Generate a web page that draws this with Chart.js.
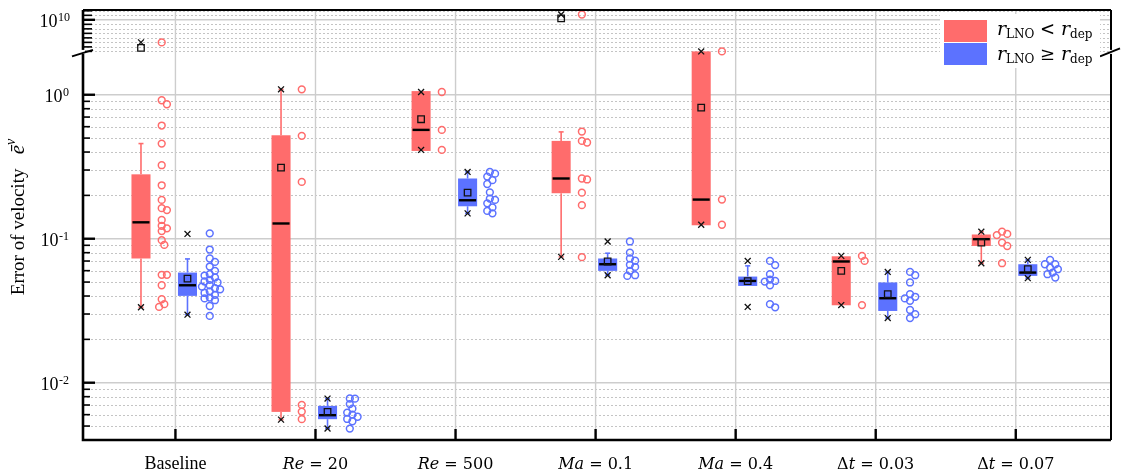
<!DOCTYPE html>
<html>
<head>
<meta charset="utf-8">
<script src="https://cdn.jsdelivr.net/npm/chart.js@4.4.0/dist/chart.umd.min.js"></script>
<style>
  html, body { margin: 0; padding: 0; background: #fff; }
</style>
</head>
<body>
<canvas id="chart" width="1124" height="475"></canvas>
<script>
const categories = ['Baseline', 'Re = 20', 'Re = 500', 'Ma = 0.1', 'Ma = 0.4', 'Δt = 0.03', 'Δt = 0.07'];

// r_LNO < r_dep
const redPoints = [
  [1e5, 0.916, 0.859, 0.611, 0.458, 0.324, 0.235, 0.186, 0.163, 0.158, 0.135, 0.123, 0.118, 0.113, 0.0977, 0.0906, 0.0561, 0.0561, 0.0475, 0.038, 0.0351, 0.0336],
  [1.09, 0.518, 0.248, 0.00701, 0.0063, 0.00558],
  [1.045, 0.570, 0.414],
  [1.5e11, 0.555, 0.478, 0.466, 0.262, 0.258, 0.209, 0.171, 0.0745],
  [2.0, 0.187, 0.125],
  [0.076, 0.0701, 0.0346],
  [0.112, 0.108, 0.106, 0.094, 0.089, 0.0676]
];
const redQ1 = [0.0729, 0.00627, 0.407, 0.207, 0.124, 0.0345, 0.0891];
const redMedian = [0.130, 0.1276, 0.570, 0.262, 0.187, 0.0695, 0.0993];
const redQ3 = [0.280, 0.523, 1.06, 0.478, 2.0, 0.0755, 0.107];
const redMean = [6e3, 0.312, 0.676, 2e10, 0.815, 0.0598, 0.0941];
const redWhiskerLo = [0.0334, 0.00554, 0.407, 0.0748, 0.124, 0.0345, 0.0676];
const redWhiskerHi = [0.458, 1.09, 1.06, 0.552, 2.0, 0.0755, 0.112];
const redMin = [0.0334, 0.00554, 0.414, 0.0748, 0.125, 0.0346, 0.0676];
const redMax = [1e5, 1.09, 1.045, 1.5e11, 2.0, 0.076, 0.112];

// r_LNO >= r_dep
const bluePoints = [
  [0.109, 0.0841, 0.0729, 0.069, 0.0641, 0.0598, 0.0567, 0.0555, 0.0538, 0.0518, 0.0505, 0.0497, 0.0475, 0.0465, 0.0453, 0.0445, 0.043, 0.042, 0.0407, 0.039, 0.0385, 0.0374, 0.0341, 0.0291],
  [0.00777, 0.00775, 0.0071, 0.0066, 0.0062, 0.006, 0.0058, 0.0056, 0.0054, 0.0048],
  [0.291, 0.283, 0.27, 0.255, 0.24, 0.21, 0.19, 0.186, 0.176, 0.165, 0.156, 0.150],
  [0.0957, 0.080, 0.073, 0.0703, 0.0659, 0.0637, 0.0598, 0.0558, 0.0552],
  [0.0701, 0.0656, 0.0567, 0.052, 0.0509, 0.0504, 0.0475, 0.0351, 0.0334],
  [0.0588, 0.0558, 0.0497, 0.0412, 0.0395, 0.0385, 0.0371, 0.032, 0.0299, 0.0281],
  [0.0713, 0.0665, 0.0665, 0.063, 0.0614, 0.0582, 0.0567, 0.0538]
];
const blueQ1 = [0.0401, 0.00558, 0.168, 0.0598, 0.047, 0.0315, 0.0552];
const blueMedian = [0.0475, 0.00595, 0.185, 0.0665, 0.0509, 0.0386, 0.0582];
const blueQ3 = [0.0582, 0.0069, 0.262, 0.0729, 0.0546, 0.0497, 0.0665];
const blueMean = [0.0529, 0.00627, 0.209, 0.0695, 0.0507, 0.0412, 0.0614];
const blueWhiskerLo = [0.0297, 0.00481, 0.150, 0.0558, 0.047, 0.0281, 0.0532];
const blueWhiskerHi = [0.0724, 0.00776, 0.291, 0.0793, 0.0648, 0.0588, 0.0713];
const blueMin = [0.0297, 0.00481, 0.150, 0.0558, 0.0336, 0.0281, 0.0532];
const blueMax = [0.108, 0.00776, 0.291, 0.0957, 0.0701, 0.0588, 0.0713];

// axis ticks (lower segment and the broken-off upper segment)
const lowerMajorTicks = [0.01, 0.1, 1];
const upperMajorTicks = [1e10];
const legendLabels = [['LNO', '<', 'dep'], ['LNO', '≥', 'dep']];

const BREAK = 100;          // values above this go on the upper segment
const RED = 'rgb(255,108,108)';
const BLUE = 'rgb(92,114,255)';
const RED_BOX_OFF = -0.246, BLUE_BOX_OFF = 0.086;
const RED_PTS_OFF = -0.098, BLUE_PTS_OFF = 0.245;
const BOX_HALF = 0.068;

// simple beeswarm so the open circles don't sit exactly on top of each other
function swarm(values, center) {
  const placed = [];
  return values.map(v => {
    const ly = Math.log10(v) * (v > BREAK ? 4.5 : 144);
    const steps = [0, 1, -1, 2, -2, 3, -3, 4, -4];
    for (const k of steps) {
      const xo = k * 2.6;
      if (placed.every(p => Math.hypot(p.x - xo, p.y - ly) >= 5.2)) {
        placed.push({ x: xo, y: ly });
        return { x: center + xo / 140, y: v };
      }
    }
    return { x: center, y: v };
  });
}

function collect(groups, offset) {
  const low = [], high = [];
  groups.forEach((vals, i) => {
    swarm(vals, i + offset).forEach(p => (p.y > BREAK ? high : low).push(p));
  });
  return { low, high };
}

function markers(pairs) {
  const low = [], high = [];
  pairs.forEach(([arr, off]) => {
    arr.forEach((v, i) => (v > BREAK ? high : low).push({ x: i + off, y: v }));
  });
  return { low, high };
}

const redPts = collect(redPoints, RED_PTS_OFF);
const bluePts = collect(bluePoints, BLUE_PTS_OFF);
const extremes = markers([[redMin, RED_BOX_OFF], [redMax, RED_BOX_OFF], [blueMin, BLUE_BOX_OFF], [blueMax, BLUE_BOX_OFF]]);
const means = markers([[redMean, RED_BOX_OFF], [blueMean, BLUE_BOX_OFF]]);

function circleSet(data, color, axis) {
  return {
    data, yAxisID: axis, pointStyle: 'circle', pointRadius: 3.4,
    borderColor: color, pointBorderWidth: 1.5, backgroundColor: 'rgba(0,0,0,0)', clip: false
  };
}
function markerSet(data, style, radius, axis) {
  return {
    data, yAxisID: axis, pointStyle: style, pointRadius: radius,
    borderColor: '#111', pointBorderWidth: 1.3, backgroundColor: 'rgba(0,0,0,0)', clip: false
  };
}

const datasets = [
  circleSet(redPts.low, RED, 'y'),
  circleSet(redPts.high, RED, 'yTop'),
  circleSet(bluePts.low, BLUE, 'y'),
  markerSet(means.low, 'rect', 4.6, 'y'),
  markerSet(means.high, 'rect', 4.6, 'yTop'),
  markerSet(extremes.low, 'crossRot', 4.2, 'y'),
  markerSet(extremes.high, 'crossRot', 4.2, 'yTop')
];

function yPix(chart, v) {
  return v > BREAK ? chart.scales.yTop.getPixelForValue(v) : chart.scales.y.getPixelForValue(v);
}

function minorValues(min, max) {
  const out = [];
  for (let e = Math.floor(Math.log10(min)); e <= Math.ceil(Math.log10(max)); e++) {
    for (let m = 2; m <= 9; m++) {
      const v = m * Math.pow(10, e);
      if (v > min * 1.001 && v < max * 0.999) out.push(v);
    }
  }
  return out;
}
function decadeValues(min, max) {
  const out = [];
  for (let e = Math.ceil(Math.log10(min)); e <= Math.floor(Math.log10(max)); e++) out.push(Math.pow(10, e));
  return out;
}

function hline(ctx, x0, x1, y) {
  ctx.beginPath(); ctx.moveTo(x0, y); ctx.lineTo(x1, y); ctx.stroke();
}

function drawBoxes(chart, off, color, q1, med, q3, lo, hi) {
  const ctx = chart.ctx, xs = chart.scales.x;
  categories.forEach((c, i) => {
    const xl = xs.getPixelForValue(i + off - BOX_HALF);
    const xr = xs.getPixelForValue(i + off + BOX_HALF);
    const xc = (xl + xr) / 2;
    const yq1 = yPix(chart, q1[i]), yq3 = yPix(chart, q3[i]);
    const ylo = yPix(chart, lo[i]), yhi = yPix(chart, hi[i]);
    ctx.strokeStyle = color; ctx.lineWidth = 1.6;
    if (yq3 - yhi > 1) {
      ctx.beginPath(); ctx.moveTo(xc, yq3); ctx.lineTo(xc, yhi); ctx.stroke();
      hline(ctx, xc - 2.5, xc + 2.5, yhi);
    }
    if (ylo - yq1 > 1) {
      ctx.beginPath(); ctx.moveTo(xc, yq1); ctx.lineTo(xc, ylo); ctx.stroke();
      hline(ctx, xc - 2.5, xc + 2.5, ylo);
    }
    ctx.fillStyle = color;
    ctx.fillRect(xl, yq3, xr - xl, yq1 - yq3);
    ctx.strokeStyle = '#000'; ctx.lineWidth = 2.4;
    hline(ctx, xl + 1, xr - 1, yPix(chart, med[i]));
  });
}

function drawSupLabel(ctx, base, sup, xRight, y) {
  ctx.textAlign = 'left'; ctx.textBaseline = 'alphabetic';
  ctx.font = '12px "Liberation Serif"';
  const sw = ctx.measureText(sup).width;
  ctx.font = '18px "Liberation Serif"';
  const bw = ctx.measureText(base).width;
  ctx.fillText(base, xRight - sw - bw - 0.5, y + 7);
  ctx.font = '12px "Liberation Serif"';
  ctx.fillText(sup, xRight - sw, y + 1);
}

function drawRuns(ctx, runs, x, y, align) {
  let w = 0;
  runs.forEach(r => { ctx.font = r.font; w += ctx.measureText(r.text).width; });
  let cx = align === 'center' ? x - w / 2 : x;
  ctx.textAlign = 'left'; ctx.textBaseline = 'alphabetic';
  runs.forEach(r => {
    ctx.font = r.font;
    ctx.fillText(r.text, cx, y + (r.dy || 0));
    cx += ctx.measureText(r.text).width;
  });
}

function categoryRuns(text) {
  const eq = text.indexOf(' = ');
  if (eq < 0) return [{ text, font: '18px "Liberation Serif"' }];
  const up = '16px "DejaVu Serif"', it = 'italic 16px "DejaVu Serif"';
  const runs = [];
  for (const ch of text.slice(0, eq)) runs.push({ text: ch, font: ch === 'Δ' ? up : it });
  runs.push({ text: ' = ' + text.slice(eq + 3), font: up });
  return runs;
}

const boxPlugin = {
  id: 'boxDecor',
  beforeDatasetsDraw(chart) {
    const ctx = chart.ctx, a = chart.chartArea;
    const y = chart.scales.y, yt = chart.scales.yTop, xs = chart.scales.x;
    ctx.save();
    // dotted minor grid
    ctx.strokeStyle = '#c4c4c4'; ctx.lineWidth = 1; ctx.setLineDash([2, 2]);
    minorValues(y.min, y.max).forEach(v => hline(ctx, a.left, a.right, Math.round(y.getPixelForValue(v)) + 0.5));
    decadeValues(yt.min, yt.max).filter(v => !upperMajorTicks.includes(v))
      .forEach(v => hline(ctx, a.left, a.right, Math.round(yt.getPixelForValue(v)) + 0.5));
    ctx.setLineDash([]);
    // solid major grid
    ctx.strokeStyle = '#cdcdcd'; ctx.lineWidth = 1.4;
    lowerMajorTicks.forEach(v => hline(ctx, a.left, a.right, y.getPixelForValue(v)));
    upperMajorTicks.forEach(v => hline(ctx, a.left, a.right, yt.getPixelForValue(v)));
    categories.forEach((c, i) => {
      const px = xs.getPixelForValue(i);
      ctx.beginPath(); ctx.moveTo(px, a.top); ctx.lineTo(px, a.bottom); ctx.stroke();
    });
    drawBoxes(chart, RED_BOX_OFF, RED, redQ1, redMedian, redQ3, redWhiskerLo, redWhiskerHi);
    drawBoxes(chart, BLUE_BOX_OFF, BLUE, blueQ1, blueMedian, blueQ3, blueWhiskerLo, blueWhiskerHi);
    ctx.restore();
  },
  afterDraw(chart) {
    const ctx = chart.ctx, a = chart.chartArea;
    const y = chart.scales.y, yt = chart.scales.yTop, xs = chart.scales.x;
    ctx.save();
    ctx.strokeStyle = '#000'; ctx.fillStyle = '#000';

    // frame
    ctx.lineWidth = 2;
    hline(ctx, a.left, a.right, a.top);
    ctx.beginPath(); ctx.moveTo(a.right, a.top); ctx.lineTo(a.right, a.bottom); ctx.stroke();
    ctx.lineWidth = 2.6;
    ctx.beginPath(); ctx.moveTo(a.left, a.top); ctx.lineTo(a.left, a.bottom); ctx.lineTo(a.right, a.bottom); ctx.stroke();

    // left axis tick marks, pointing inwards
    ctx.lineWidth = 1.6;
    minorValues(y.min, y.max).forEach(v => hline(ctx, a.left, a.left + 7, y.getPixelForValue(v)));
    decadeValues(yt.min, yt.max).forEach(v => hline(ctx, a.left, a.left + 9, yt.getPixelForValue(v)));
    ctx.lineWidth = 2.4;
    lowerMajorTicks.forEach(v => hline(ctx, a.left, a.left + 12, y.getPixelForValue(v)));
    upperMajorTicks.forEach(v => hline(ctx, a.left, a.left + 12, yt.getPixelForValue(v)));
    categories.forEach((c, i) => {
      const px = xs.getPixelForValue(i);
      ctx.beginPath(); ctx.moveTo(px, a.bottom); ctx.lineTo(px, a.bottom - 11); ctx.stroke();
    });

    // axis break
    const yb = y.top;
    ctx.fillStyle = '#fff';
    ctx.fillRect(a.left - 2, yb - 1.5, 4, 4);
    ctx.fillRect(a.right - 2, yb - 1.5, 4, 4);
    ctx.fillStyle = '#000';
    ctx.lineWidth = 2;
    ctx.beginPath(); ctx.moveTo(a.left - 11, yb + 5); ctx.lineTo(a.left + 10, yb - 1.5); ctx.stroke();
    ctx.beginPath(); ctx.moveTo(a.right - 11, yb + 5); ctx.lineTo(a.right + 9, yb - 3); ctx.stroke();

    // tick labels
    lowerMajorTicks.forEach(v => drawSupLabel(ctx, '10', String(Math.round(Math.log10(v))), 69, y.getPixelForValue(v)));
    upperMajorTicks.forEach(v => drawSupLabel(ctx, '10', String(Math.round(Math.log10(v))), 70, yt.getPixelForValue(v)));
    categories.forEach((c, i) => drawRuns(ctx, categoryRuns(c), xs.getPixelForValue(i), 469, 'center'));

    // y title
    ctx.save();
    ctx.translate(18, 217);
    ctx.rotate(-Math.PI / 2);
    drawRuns(ctx, [
      { text: 'Error of velocity   ', font: '19px "Liberation Serif"' },
      { text: 'ē', font: 'italic 21px "Liberation Serif"' },
      { text: 'v', font: 'italic 14px "Liberation Serif"', dy: -9 }
    ], 0, 6, 'center');
    ctx.restore();

    // legend
    ctx.fillStyle = '#fff';
    ctx.fillRect(940, 14, 160, 54);
    [RED, BLUE].forEach((col, k) => {
      ctx.fillStyle = col;
      ctx.fillRect(944, 20 + k * 23, 43, 22);
      ctx.fillStyle = '#000';
      const [sub1, rel, sub2] = legendLabels[k];
      drawRuns(ctx, [
        { text: 'r', font: 'italic 19px "DejaVu Serif"' },
        { text: sub1, font: '12px "DejaVu Serif"', dy: 3 },
        { text: ' ' + rel + ' ', font: '18px "DejaVu Serif"' },
        { text: 'r', font: 'italic 19px "DejaVu Serif"' },
        { text: sub2, font: '12px "DejaVu Serif"', dy: 3 }
      ], 997, 35 + k * 25, 'left');
    });
    ctx.restore();
  }
};

const hidden = { ticks: { display: false }, grid: { display: false, drawTicks: false }, border: { display: false } };

new Chart(document.getElementById('chart'), {
  type: 'scatter',
  data: { datasets },
  options: {
    responsive: false,
    animation: false,
    events: [],
    layout: { padding: { left: 83, right: 13, top: 10, bottom: 35 } },
    plugins: { legend: { display: false }, tooltip: { enabled: false } },
    scales: {
      x: Object.assign({ type: 'linear', min: -0.66, max: 6.68 }, hidden),
      y: Object.assign({ type: 'logarithmic', position: 'left', min: 0.004, max: 2, stack: 'err', stackWeight: 388.6 }, hidden),
      yTop: Object.assign({ type: 'logarithmic', position: 'left', min: 1e3, max: 1.5e12, stack: 'err', stackWeight: 41.4 }, hidden)
    }
  },
  plugins: [boxPlugin]
});
</script>
</body>
</html>
